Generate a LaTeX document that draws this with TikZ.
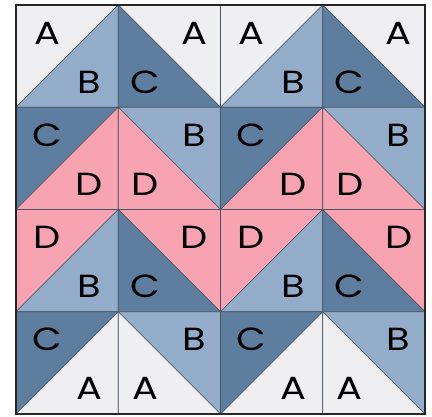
\documentclass[tikz,border=0pt]{standalone}
\usepackage{fontspec}
\setmainfont{Poppins}
\newfontfamily\lblfont[FakeStretch=1.2]{Poppins}
\definecolor{cA}{HTML}{EFEFF1}
\definecolor{cB}{HTML}{92ACCA}
\definecolor{cC}{HTML}{5E7EA0}
\definecolor{cD}{HTML}{F7A3B1}
\definecolor{seam}{HTML}{4A5560}
\newcommand\slashcell[4]{% col, row, upper-left letter, lower-right letter ( / diagonal)
  \pgfmathsetmacro\xa{16+#1*102.25}\pgfmathsetmacro\ya{5+#2*102.25}
  \pgfmathsetmacro\xb{\xa+102.25}\pgfmathsetmacro\yb{\ya+102.25}
  \filldraw[patch,fill=c#3] (\xa,\ya) -- (\xb,\ya) -- (\xa,\yb) -- cycle;
  \filldraw[patch,fill=c#4] (\xb,\ya) -- (\xb,\yb) -- (\xa,\yb) -- cycle;
  \node[lbl] (u-#1-#2) at (\xa+31,\ya+28) {#3};
  \node[lbl] (d-#1-#2) at (\xa+73,\ya+77) {#4};
}
\newcommand\backcell[4]{% col, row, upper-right letter, lower-left letter ( \ diagonal)
  \pgfmathsetmacro\xa{16+#1*102.25}\pgfmathsetmacro\ya{5+#2*102.25}
  \pgfmathsetmacro\xb{\xa+102.25}\pgfmathsetmacro\yb{\ya+102.25}
  \filldraw[patch,fill=c#3] (\xa,\ya) -- (\xb,\ya) -- (\xb,\yb) -- cycle;
  \filldraw[patch,fill=c#4] (\xa,\ya) -- (\xb,\yb) -- (\xa,\yb) -- cycle;
  \node[lbl] (u-#1-#2) at (\xa+76,\ya+28) {#3};
  \node[lbl] (d-#1-#2) at (\xa+27,\ya+77) {#4};
}
\begin{document}
\begin{tikzpicture}[x=1pt,y=-1pt,
  patch/.style={draw=seam,line width=0.6pt,line join=round},
  lbl/.style={font=\lblfont\fontsize{32}{32}\selectfont,text=black,inner sep=0pt,anchor=center}]
\useasboundingbox (0,0) rectangle (432,417);
\fill[white] (0,0) rectangle (432,417);
\foreach \c in {0,2}{
  \slashcell{\c}{0}{A}{B}
  \slashcell{\c}{1}{C}{D}
  \slashcell{\c}{2}{D}{B}
  \slashcell{\c}{3}{C}{A}
}
\foreach \c in {1,3}{
  \backcell{\c}{0}{A}{C}
  \backcell{\c}{1}{B}{D}
  \backcell{\c}{2}{D}{C}
  \backcell{\c}{3}{B}{A}
}
\draw[draw=black!85,line width=1.6pt] (16,5) rectangle (425,414);
\end{tikzpicture}
\end{document}
